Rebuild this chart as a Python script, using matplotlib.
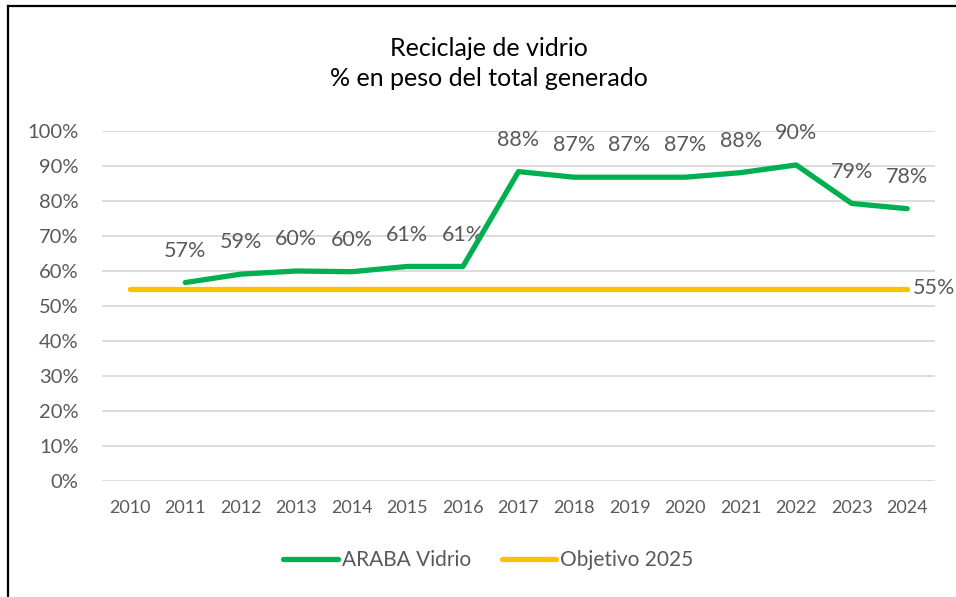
import matplotlib
matplotlib.use("Agg")
import matplotlib.pyplot as plt
from matplotlib.lines import Line2D

# data
years = [str(y) for y in range(2010, 2025)]
vidrio_years = years[1:]
vidrio = [56.7, 59.1, 60.0, 59.8, 61.3, 61.3, 88.4, 86.8, 86.8, 86.8, 88.1, 90.3, 79.3, 77.8]
objetivo = [55.0] * len(years)
y_ticks = list(range(0, 101, 10))

GREEN = "#00B050"
YELLOW = "#FFC000"
TXT = "#595959"

plt.rcParams['font.family'] = ['Lato', 'DejaVu Sans']

fig = plt.figure(figsize=(9.56, 5.97), dpi=100)
ax = fig.add_axes([102 / 956, (597 - 481) / 597, 833 / 956, 350 / 597])

x_all = list(range(len(years)))
x_vid = [years.index(y) for y in vidrio_years]

ax.plot(x_all, objetivo, color=YELLOW, lw=3.8, solid_capstyle='round', zorder=3)
ax.plot(x_vid, vidrio, color=GREEN, lw=3.8, solid_capstyle='round',
        solid_joinstyle='round', zorder=4)

# data labels
for xi, v in zip(x_vid, vidrio):
    ax.annotate(f"{round(v):.0f}%", (xi, v), xytext=(0, 23), textcoords='offset points',
                ha='center', va='center', fontsize=15.5, color=TXT)
ax.annotate(f"{objetivo[-1]:.0f}%", (x_all[-1], objetivo[-1]), xytext=(4, 0),
            textcoords='offset points', ha='left', va='center', fontsize=15.5, color=TXT)

ax.set_xlim(-0.5, len(years) - 0.5)
ax.set_ylim(0, 100)
ax.set_xticks(x_all)
ax.set_xticklabels(years)
ax.set_yticks(y_ticks)
ax.set_yticklabels([f"{t}%" for t in y_ticks])
ax.tick_params(axis='both', length=0, colors=TXT)
ax.tick_params(axis='x', pad=14, labelsize=13)
ax.tick_params(axis='y', pad=17, labelsize=14.5)
ax.grid(axis='y', color="#D9D9D9", lw=1.3)
ax.set_axisbelow(True)
for s in ax.spines.values():
    s.set_visible(False)

fig.text(0.511, 1 - 56 / 597, "Reciclaje de vidrio", ha='center', va='baseline',
         fontsize=18, color='black')
fig.text(0.511, 1 - 86 / 597, "% en peso del total generado", ha='center', va='baseline',
         fontsize=18, color='black')

handles = [Line2D([0], [0], color=GREEN, lw=3.8, solid_capstyle='round'),
           Line2D([0], [0], color=YELLOW, lw=3.8, solid_capstyle='round')]
fig.legend(handles, ["ARABA Vidrio", "Objetivo 2025"], loc='center',
           bbox_to_anchor=(0.511, (597 - 560) / 597), ncol=2, frameon=False,
           fontsize=15, labelcolor=TXT, handlelength=2.6, handletextpad=0.2,
           columnspacing=1.5)

# partial black frame (left and top edge of the cropped chart)
fig.add_artist(Line2D([8 / 956, 8 / 956], [0, 1 - 6 / 597], transform=fig.transFigure,
                      color='black', lw=1.6))
fig.add_artist(Line2D([8 / 956, 1], [1 - 6 / 597, 1 - 6 / 597], transform=fig.transFigure,
                      color='black', lw=1.6))

fig.savefig("out.png", dpi=100)
